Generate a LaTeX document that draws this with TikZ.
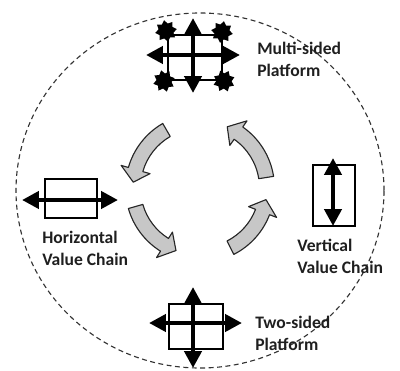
\documentclass[tikz,border=0pt]{standalone}
\usepackage{fontspec}
\setmainfont{Carlito}
\usetikzlibrary{arrows.meta,shapes.geometric}
\tikzset{
  icon/.style={draw,line width=0.8pt,inner sep=0pt},
  dbl/.style={line width=3.2pt,{Triangle[length=12pt,width=12pt]}-{Triangle[length=12pt,width=12pt]}},
  spike/.style={star,star points=8,star point ratio=1.45,fill,inner sep=0pt,minimum size=0.55cm},
  cyc/.style={fill=black!22,draw=black!85,line width=0.8pt,line join=round},
  lbl/.style={font=\bfseries\fontsize{12.5}{15.5}\selectfont,align=left,inner sep=0pt,anchor=west,text=black!88}
}
\newcommand\turnarrow[2]{%
  \filldraw[cyc] (#1:74.5) arc[start angle=#1,end angle=#2-11,radius=74.5]
    -- (#2-11:82) -- (#2:67) -- (#2-11:52) -- (#2-11:59.5)
    arc[start angle=#2-11,end angle=#1,radius=59.5] -- cycle;}
\begin{document}
\begin{tikzpicture}[x=0.025cm,y=0.025cm]
\useasboundingbox (0,0) rectangle (400,370);
\draw[dashed,dash pattern=on 3.5pt off 2.5pt,line width=0.8pt,black!80] (200,179.5) ellipse [x radius=184,y radius=177.5];

\node[icon,minimum width=1.35cm,minimum height=1.125cm] (multi) at (195,312.5) {};
\draw[dbl] (146,315) -- (240,315);
\draw[dbl] (193,352) -- (193,277);
\foreach \p/\r in {(166,339)/10,(222,338)/35,(164,289)/60,(224,289)/20}
  \node[spike,rotate=\r] at \p {};
\node[lbl] (multilbl) at (257,311) {Multi-sided\\Platform};

\node[icon,minimum width=1.3cm,minimum height=0.975cm] (horiz) at (71,171.5) {};
\draw[dbl] (22,170) -- (118,170);
\node[lbl] (horizlbl) at (42,122) {Horizontal\\Value Chain};

\node[icon,minimum width=1.05cm,minimum height=1.525cm] (vert) at (334,174.5) {};
\draw[dbl] (333,212) -- (333,144);
\node[lbl] (vertlbl) at (297,114) {Vertical\\Value Chain};

\node[icon,minimum width=1.35cm,minimum height=1.125cm] (two) at (196,43.5) {};
\draw[dbl] (149,47) -- (242,47);
\draw[dbl] (193,83) -- (193,2);
\node[lbl] (twolbl) at (255,36.5) {Two-sided\\Platform};

\begin{scope}[shift={(200,182)}]
\turnarrow{120}{175}
\turnarrow{196}{249}
\turnarrow{297}{350}
\turnarrow{9}{66}
\end{scope}
\end{tikzpicture}
\end{document}
